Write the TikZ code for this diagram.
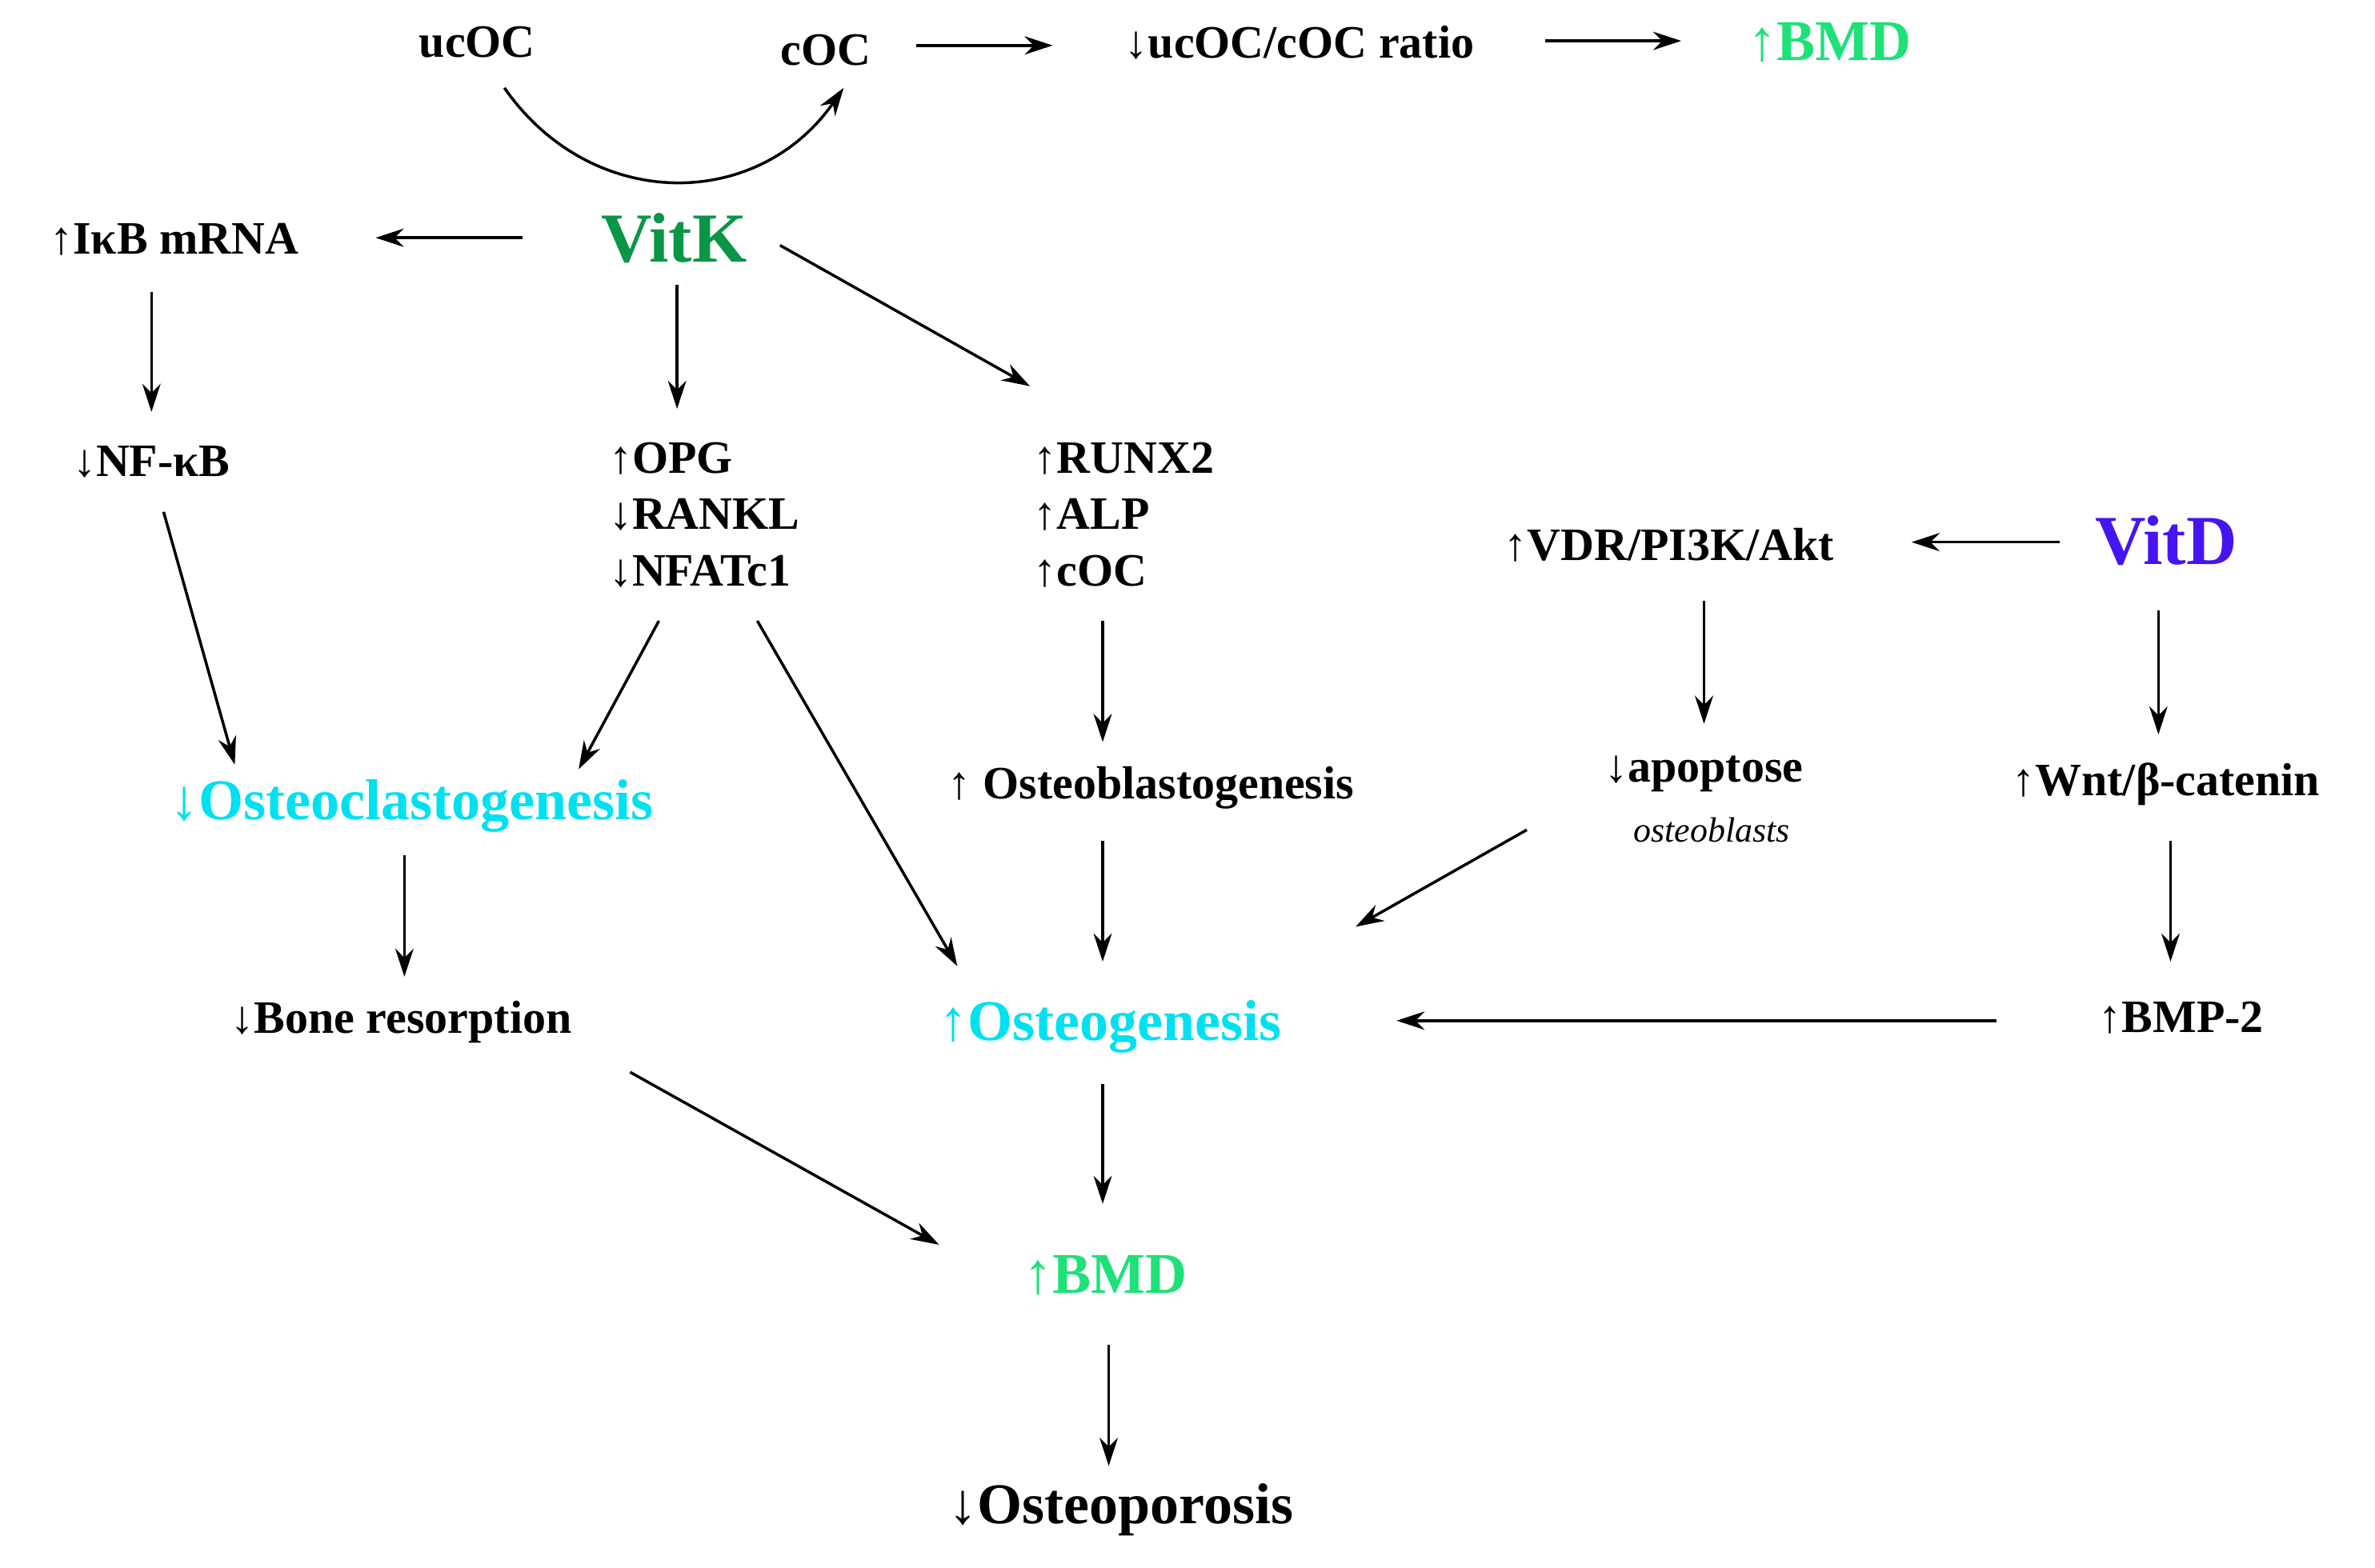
\documentclass[tikz,border=0pt]{standalone}
\usepackage{fontspec}
\setmainfont{Liberation Serif}
\usetikzlibrary{arrows.meta}
\definecolor{bmdg}{RGB}{30,225,120}
\definecolor{vitkg}{RGB}{10,150,70}
\definecolor{cyn}{RGB}{0,225,240}
\definecolor{vitdb}{RGB}{70,20,240}
\begin{document}
\begin{tikzpicture}[x=0.01893cm,y=-0.01893cm,
  t/.style={font=\bfseries\fontsize{16.5}{20}\selectfont,inner sep=4pt},
  big/.style={font=\bfseries\fontsize{20.5}{24}\selectfont,inner sep=4pt},
  arr/.style={-{Stealth[length=10pt,width=6.5pt]},line width=1pt}]
\useasboundingbox (0,0) rectangle (1568,1035);
\node[t] (ucoc) at (315,28) {ucOC};
\node[t] (coc) at (545,33) {cOC};
\node[t] (ratio) at (858,28) {↓ucOC/cOC ratio};
\node[big,text=bmdg] (bmd1) at (1208,28) {↑BMD};
\node[font=\bfseries\fontsize{25}{29}\selectfont,text=vitkg] (vitk) at (445,157) {VitK};
\node[t] (ikb) at (115,158) {↑IκB mRNA};
\node[t] (nfkb) at (100,305) {↓NF-κB};
\node[t,align=left] (opg) at (465,340) {↑OPG\\↓RANKL\\↓NFATc1};
\node[t,align=left] (runx) at (742,340) {↑RUNX2\\↑ALP\\↑cOC};
\node[t] (vdr) at (1102,360) {↑VDR/PI3K/Akt};
\node[font=\bfseries\fontsize{25}{29}\selectfont,text=vitdb] (vitd) at (1430,357) {VitD};
\node[big,text=cyn] (ocl) at (272,532) {↓Osteoclastogenesis};
\node[t] (obl) at (760,520) {↑ Osteoblastogenesis};
\node[t] (apo) at (1125,511) {↓apoptose};
\node[font=\itshape\fontsize{12.5}{14}\selectfont] (ob) at (1130,548) {osteoblasts};
\node[t] (wnt) at (1430,518) {↑Wnt/β-catenin};
\node[t] (bres) at (265,675) {↓Bone resorption};
\node[big,text=cyn] (ogen) at (733,678) {↑Osteogenesis};
\node[t] (bmp) at (1440,672) {↑BMP-2};
\node[big,text=bmdg] (bmd2) at (730,842) {↑BMD};
\node[big] (op) at (740,997) {↓Osteoporosis};
% connector end points
\coordinate (u1) at (333,58); \coordinate (c2) at (557,58);
\coordinate (k0) at (345,157); \coordinate (i1) at (248,157);
\coordinate (k1) at (447,188); \coordinate (p1) at (447,270);
\coordinate (k2) at (515,162); \coordinate (r0) at (680,255);
\coordinate (i2) at (100,193); \coordinate (n0) at (100,272);
\coordinate (n1) at (108,338); \coordinate (l1) at (155,505);
\coordinate (o1) at (435,410); \coordinate (l2) at (382,508);
\coordinate (o2) at (500,410); \coordinate (g1) at (632,638);
\coordinate (r1) at (728,410); \coordinate (b1) at (728,490);
\coordinate (b2) at (728,555); \coordinate (g2) at (728,635);
\coordinate (a1) at (1008,548); \coordinate (g3) at (895,612);
\coordinate (v1) at (1125,397); \coordinate (a2) at (1125,478);
\coordinate (d1) at (1360,358); \coordinate (v2) at (1262,358);
\coordinate (d2) at (1425,403); \coordinate (w0) at (1425,485);
\coordinate (w1) at (1433,555); \coordinate (m0) at (1433,635);
\coordinate (m1) at (1318,674); \coordinate (g4) at (922,674);
\coordinate (l3) at (267,565); \coordinate (e0) at (267,645);
\coordinate (e1) at (416,708); \coordinate (s0) at (620,822);
\coordinate (g5) at (728,716); \coordinate (s1) at (728,795);
\coordinate (s2) at (732,888); \coordinate (q0) at (732,968);
\coordinate (c3) at (605,30); \coordinate (t0) at (695,30);
\coordinate (t1) at (1020,27); \coordinate (h0) at (1110,27);
\draw[arr] (c3) -- (t0);
\draw[arr] (t1) -- (h0);
\draw[arr] (u1) .. controls (390,140) and (500,140) .. (c2);
\draw[arr] (k0) -- (i1);
\draw[arr] (k1) -- (p1);
\draw[arr] (k2) -- (r0);
\draw[arr] (i2) -- (n0);
\draw[arr] (n1) -- (l1);
\draw[arr] (o1) -- (l2);
\draw[arr] (o2) -- (g1);
\draw[arr] (r1) -- (b1);
\draw[arr] (b2) -- (g2);
\draw[arr] (a1) -- (g3);
\draw[arr] (v1) -- (a2);
\draw[arr] (d1) -- (v2);
\draw[arr] (d2) -- (w0);
\draw[arr] (w1) -- (m0);
\draw[arr] (m1) -- (g4);
\draw[arr] (l3) -- (e0);
\draw[arr] (e1) -- (s0);
\draw[arr] (g5) -- (s1);
\draw[arr] (s2) -- (q0);
\end{tikzpicture}
\end{document}
